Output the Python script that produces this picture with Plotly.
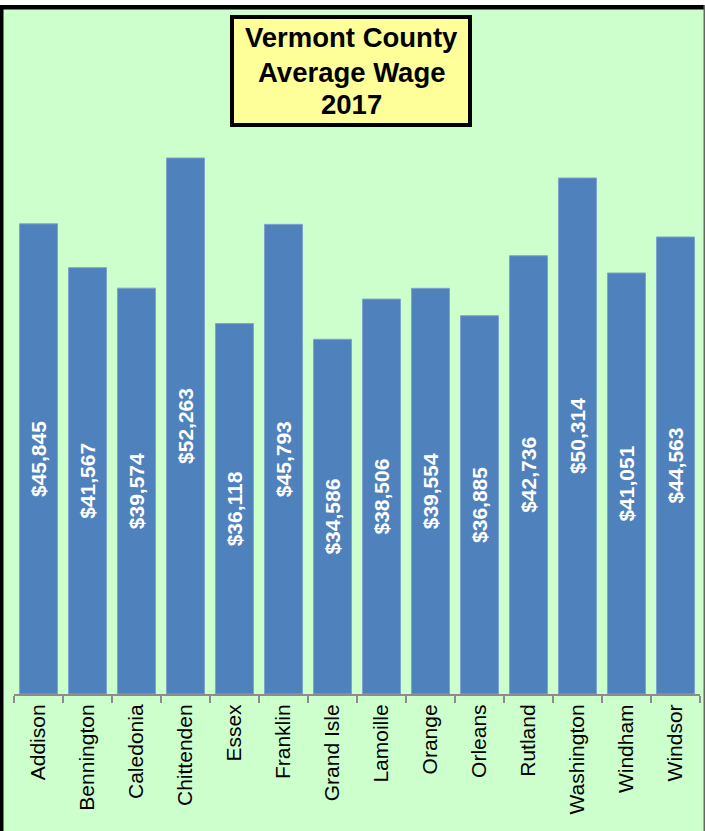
import plotly.graph_objects as go

counties = ["Addison", "Bennington", "Caledonia", "Chittenden", "Essex", "Franklin",
            "Grand Isle", "Lamoille", "Orange", "Orleans", "Rutland", "Washington",
            "Windham", "Windsor"]
wages = [45845, 41567, 39574, 52263, 36118, 45793, 34586, 38506, 39554, 36885,
         42736, 50314, 41051, 44563]
title_lines = ["Vermont County", "Average Wage", "2017"]

W, H = 705, 831
L, R, T, B = 14, 5, 30, 137
pw, ph = W - L - R, H - T - B

def px(x):
    return (x - L) / pw

def py(y):
    return (H - B - y) / ph

fig = go.Figure(go.Bar(
    x=counties, y=wages,
    marker=dict(color="#4F81BD", line=dict(color="#7EA3D0", width=1)),
    texttemplate="$%{y:,}",
    textposition="inside",
    insidetextanchor="middle",
    textangle=-90,
    textfont=dict(color="white", size=21, family="Liberation Sans, Arial", weight="bold"),
    constraintext="none",
    hoverinfo="skip",
))

title_y = [37.5, 72.5, 104]
annotations = [
    dict(text="<b>%s</b>" % line, xref="paper", yref="paper",
         x=px(351), y=py(cy), xanchor="center", yanchor="middle",
         showarrow=False,
         font=dict(size=27.5, color="black", family="Liberation Sans, Arial"))
    for line, cy in zip(title_lines, title_y)
]

fig.update_layout(
    width=W, height=H,
    margin=dict(l=L, r=R, t=T, b=B, pad=0),
    paper_bgcolor="#CCFFCC",
    plot_bgcolor="#CCFFCC",
    bargap=0.224,
    showlegend=False,
    font=dict(family="Liberation Sans, Arial", color="black"),
    xaxis=dict(
        type="category",
        tickangle=-90,
        tickfont=dict(size=21, color="black"),
        showline=True, linecolor="#8C8C8C", linewidth=2,
        ticks="outside", tickcolor="#8C8C8C", ticklen=7, tickwidth=2,
        tickson="boundaries",
        showgrid=False, zeroline=False,
    ),
    yaxis=dict(
        range=[0, 52263 * ph / (694 - 158)],
        visible=False, showgrid=False, zeroline=False,
    ),
    annotations=annotations,
    shapes=[
        dict(type="rect", xref="paper", yref="paper", x0=px(232), x1=px(470), y0=py(17), y1=py(125),
             fillcolor="#FFFF99", line=dict(color="black", width=4), layer="below"),
        dict(type="rect", xref="paper", yref="paper", x0=px(0), x1=px(W), y0=py(0), y1=py(5),
             fillcolor="white", line=dict(width=0), layer="above"),
        dict(type="rect", xref="paper", yref="paper", x0=px(0), x1=px(W), y0=py(5), y1=py(9.5),
             fillcolor="black", line=dict(width=0), layer="above"),
        dict(type="rect", xref="paper", yref="paper", x0=px(0), x1=px(3.5), y0=py(5), y1=py(H),
             fillcolor="black", line=dict(width=0), layer="above"),
        dict(type="rect", xref="paper", yref="paper", x0=px(703.5), x1=px(W), y0=py(5), y1=py(H),
             fillcolor="#666666", line=dict(width=0), layer="above"),
    ],
)

fig.write_html(
    "out.html",
    config={"displayModeBar": False},
    post_script="document.body.style.margin='0';document.body.style.overflow='hidden';",
)
